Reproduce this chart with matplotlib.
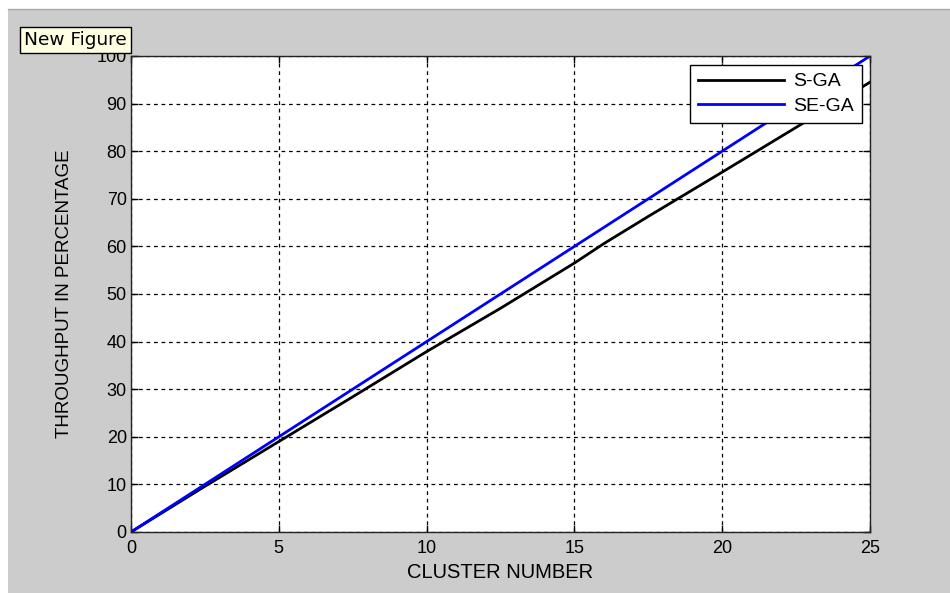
import matplotlib
matplotlib.use("Agg")
import matplotlib.pyplot as plt
from matplotlib.patches import Rectangle
import numpy as np

# values
cluster = np.array([0, 2.5, 5, 7.5, 10, 12.5, 15, 16, 17.5, 20, 22.5, 25])
s_ga = np.array([0, 9.6, 19.0, 28.4, 37.9, 47.0, 56.5, 60.6, 66.3, 75.6, 85.0, 94.5])
se_ga_x = np.array([0, 5, 10, 15, 20, 25])
se_ga = np.array([0, 20, 40, 60, 80, 100])

xticks = [0, 5, 10, 15, 20, 25]
yticks = list(range(0, 101, 10))

plt.rcParams['font.family'] = ['Liberation Sans', 'DejaVu Sans']

fig = plt.figure(figsize=(9.5, 5.93), dpi=100, facecolor='white')
# MATLAB figure window background
fig.patches.append(Rectangle((8/950, 0), 1, (593-10)/593, transform=fig.transFigure,
                             facecolor='#cccccc', edgecolor='none', zorder=-10))
fig.add_artist(plt.Line2D([8/950, 1], [(593-9)/593]*2, transform=fig.transFigure,
                          color='#a8a8a8', lw=1, zorder=-9))

ax = fig.add_axes([131/950, 61/593, 739/950, 476/593])
ax.set_facecolor('white')

ax.plot(cluster, s_ga, color='black', lw=2, label='S-GA')
ax.plot(se_ga_x, se_ga, color='#0000ff', lw=2, label='SE-GA')

ax.set_xlim(0, 25)
ax.set_ylim(0, 100)
ax.set_xticks(xticks)
ax.set_yticks(yticks)
ax.tick_params(direction='in', length=5, width=1, top=True, right=True,
               labelsize=13, colors='black', pad=3)
ax.tick_params(axis='x', pad=6)
ax.grid(True, color='black', linestyle=(0, (3, 3)), linewidth=0.9)
for s in ax.spines.values():
    s.set_linewidth(1)
    s.set_color('#222222')

ax.set_xlabel('CLUSTER NUMBER', fontsize=14.5, labelpad=4)
ax.set_ylabel('THROUGHPUT IN PERCENTAGE', fontsize=13.5, labelpad=17)

leg = ax.legend(loc='upper right', bbox_to_anchor=(862/950, (593-65)/593),
                bbox_transform=fig.transFigure, fontsize=14, handlelength=4.4,
                fancybox=False, framealpha=1, edgecolor='black', borderpad=0.4,
                labelspacing=0.35, handletextpad=0.5, borderaxespad=0)
leg.get_frame().set_linewidth(1)

# tooltip from the MATLAB toolbar
fig.text(24/950, (593-40)/593, 'New Figure', fontsize=13.3, va='center', ha='left',
         family=['DejaVu Sans'],
         bbox=dict(boxstyle='square,pad=0.22', facecolor='#ffffe1', edgecolor='black', lw=1),
         zorder=10)

fig.savefig('out.png', dpi=100, facecolor=fig.get_facecolor())
